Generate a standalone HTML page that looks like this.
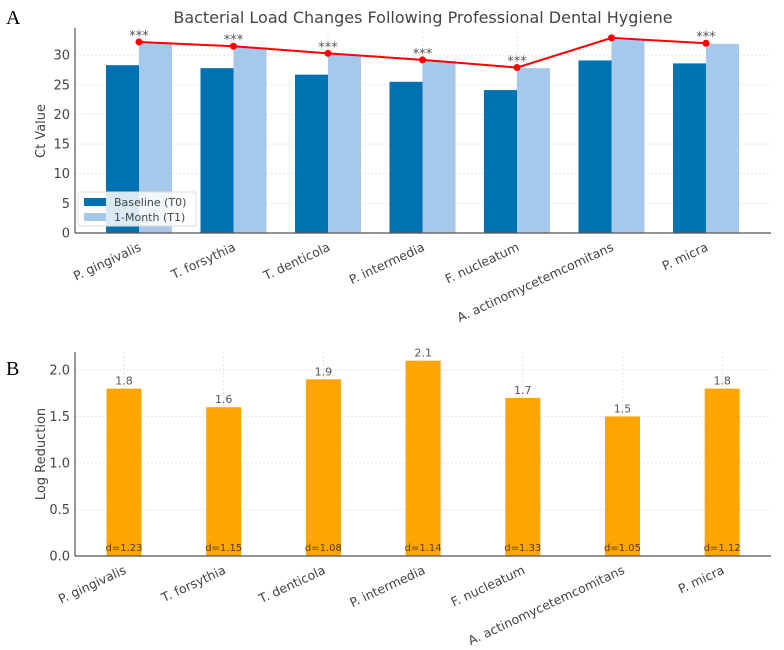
<!DOCTYPE html>
<html><head><meta charset="utf-8"><style>
html,body{margin:0;padding:0;background:#fff;}
svg{display:block;font-family:"DejaVu Sans","Liberation Sans",sans-serif;}
</style></head><body>
<svg id="fig" width="784" height="650" viewBox="0 0 784 650" xmlns="http://www.w3.org/2000/svg">
<text x="6" y="24" font-family="Liberation Serif,serif" font-size="20" fill="#000">A</text>
<text x="6" y="375" font-family="Liberation Serif,serif" font-size="20" fill="#000">B</text>
<text x="423" y="23" text-anchor="middle" font-size="16" fill="#444">Bacterial Load Changes Following Professional Dental Hygiene</text>
<g id="chartA"></g>
<g id="chartB"></g>
</svg>
<script>
const categories = ["P. gingivalis","T. forsythia","T. denticola","P. intermedia","F. nucleatum","A. actinomycetemcomitans","P. micra"];
const baselineCt = [28.3, 27.8, 26.7, 25.5, 24.1, 29.1, 28.6];
const monthCt = [32.0, 31.3, 30.1, 29.0, 27.8, 32.6, 31.9];
const lineCt = [32.2, 31.5, 30.3, 29.2, 27.9, 32.9, 32.0];
const sigLabels = ["***","***","***","***","***","","***"];
const ctTicks = [0,5,10,15,20,25,30];
const logReduction = [1.8, 1.6, 1.9, 2.1, 1.7, 1.5, 1.8];
const effectLabels = ["d=1.23","d=1.15","d=1.08","d=1.14","d=1.33","d=1.05","d=1.12"];
const logTicks = [0.0,0.5,1.0,1.5,2.0];

const NS="http://www.w3.org/2000/svg";
function mk(parent,tag,attrs,text){const e=document.createElementNS(NS,tag);for(const k in attrs)e.setAttribute(k,attrs[k]);if(text!==undefined)e.textContent=text;parent.appendChild(e);return e;}

// Chart A
const gA=document.getElementById('chartA');
const axL=75, axR=771;
const yA=v=>233-v*5.93;
const xA=i=>139+i*94.5;
ctTicks.forEach(t=>{
  const gl=mk(gA,'line',{x1:axL,x2:axR,y1:yA(t),y2:yA(t),stroke:'#ddd','stroke-dasharray':'2,2','stroke-width':0.8});
  
  
  const tl=mk(gA,'text',{x:axL-5,y:yA(t)+4.5,'text-anchor':'end','font-size':13,fill:'#444'},String(t));
  
  
});
categories.forEach((c,i)=>{
  mk(gA,'line',{x1:xA(i),x2:xA(i),y1:28,y2:233,stroke:'#ddd','stroke-dasharray':'2,2','stroke-width':0.8});
  const b0=mk(gA,'rect',{x:xA(i)-33,y:yA(baselineCt[i]),width:33,height:yA(0)-yA(baselineCt[i]),fill:'#0072b2'});
  
  
  const b1=mk(gA,'rect',{x:xA(i),y:yA(monthCt[i]),width:33,height:yA(0)-yA(monthCt[i]),fill:'#a6c8ea'});
  
  
  const lab=mk(gA,'text',{x:xA(i)+3,y:250,'text-anchor':'end','font-size':12.5,fill:'#444',transform:`rotate(-25 ${xA(i)+3} 250)`},c);
  
  
});
let pts=lineCt.map((v,i)=>`${xA(i)},${yA(v)}`).join(' ');
const pl=mk(gA,'polyline',{points:pts,fill:'none',stroke:'#f00','stroke-width':2});


lineCt.forEach((v,i)=>{
  const p=mk(gA,'circle',{cx:xA(i),cy:yA(v),r:3.5,fill:'#f00'});
  
  
  if(sigLabels[i]){
    const s=mk(gA,'text',{x:xA(i),y:yA(v)-2,'text-anchor':'middle','font-size':13,fill:'#555'},sigLabels[i]);
    
    
  }
});
mk(gA,'line',{x1:axL,x2:axL,y1:28,y2:233,stroke:'#555','stroke-width':1.2});
mk(gA,'line',{x1:axL,x2:axR,y1:233,y2:233,stroke:'#555','stroke-width':1.2});
const yt=mk(gA,'text',{x:0,y:0,'text-anchor':'middle','font-size':13,fill:'#444',transform:'translate(45,131) rotate(-90)'},'Ct Value');


// legend
const lg=mk(gA,'g',{});


mk(lg,'rect',{x:78,y:192,width:118,height:34,fill:'#fff','fill-opacity':0.85,stroke:'#ddd',rx:2});
mk(lg,'rect',{x:84,y:198,width:22,height:8,fill:'#0072b2'});
mk(lg,'text',{x:114,y:206,'font-size':11,fill:'#444'},'Baseline (T0)');
mk(lg,'rect',{x:84,y:213,width:22,height:8,fill:'#a6c8ea'});
mk(lg,'text',{x:114,y:221,'font-size':11,fill:'#444'},'1-Month (T1)');

// Chart B
const gB=document.getElementById('chartB');
const yB=v=>556-v*93;
const xB=i=>124+i*99.7;
logTicks.forEach(t=>{
  mk(gB,'line',{x1:axL,x2:axR,y1:yB(t),y2:yB(t),stroke:'#ddd','stroke-dasharray':'2,2','stroke-width':0.8});
  const tl=mk(gB,'text',{x:axL-5,y:yB(t)+4.5,'text-anchor':'end','font-size':13,fill:'#444'},t.toFixed(1));
  
  
});
categories.forEach((c,i)=>{
  mk(gB,'line',{x1:xB(i),x2:xB(i),y1:352,y2:556,stroke:'#ddd','stroke-dasharray':'2,2','stroke-width':0.8});
  const b=mk(gB,'rect',{x:xB(i)-17.5,y:yB(logReduction[i]),width:35,height:yB(0)-yB(logReduction[i]),fill:'#ffa500'});
  
  
  const v=mk(gB,'text',{x:xB(i),y:yB(logReduction[i])-4,'text-anchor':'middle','font-size':11,fill:'#555'},String(logReduction[i]));
  
  
  const d=mk(gB,'text',{x:xB(i),y:551,'text-anchor':'middle','font-size':10,fill:'#5a3a00'},effectLabels[i]);
  
  
  const lab=mk(gB,'text',{x:xB(i)+3,y:573,'text-anchor':'end','font-size':12.5,fill:'#444',transform:`rotate(-25 ${xB(i)+3} 573)`},c);
  
  
});
mk(gB,'line',{x1:axL,x2:axL,y1:352,y2:556,stroke:'#555','stroke-width':1.2});
mk(gB,'line',{x1:axL,x2:axR,y1:556,y2:556,stroke:'#555','stroke-width':1.2});
const yt2=mk(gB,'text',{x:0,y:0,'text-anchor':'middle','font-size':13,fill:'#444',transform:'translate(45,454) rotate(-90)'},'Log Reduction');


</script>
</body></html>
